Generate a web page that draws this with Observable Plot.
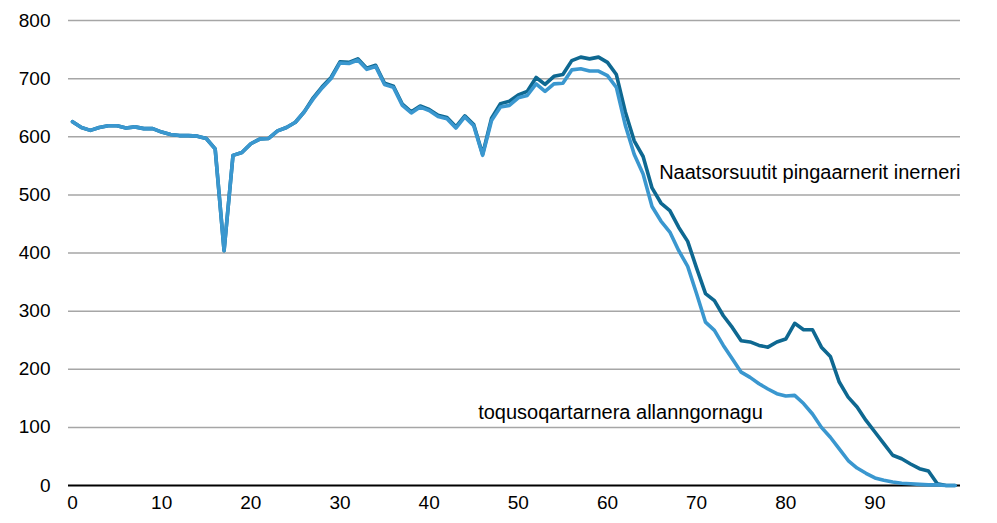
<!DOCTYPE html>
<html>
<head>
<meta charset="utf-8">
<script src="https://cdn.jsdelivr.net/npm/d3@7"></script>
<script src="https://cdn.jsdelivr.net/npm/@observablehq/plot@0.6"></script>
<style>
  html, body { margin: 0; padding: 0; background: #fff; }
  #chart { width: 997px; height: 523px; }
</style>
</head>
<body>
<div id="chart"></div>
<script>
const ages = d3.range(0, 100);

const seriesNames = ["Naatsorsuutit pingaarnerit inerneri", "toqusoqartarnera allanngornagu"];

const projected = [
  626,616,611,616,619,619,615,617,614,614,
  608,604,602,602,601,597,579,404,568,573,
  588,596,597,610,616,625,643,667,686,702,
  729,728,734,718,723,692,687,656,643,653,
  647,637,633,617,636,621,570,632,657,661,
  672,678,702,690,704,707,731,737,734,737,
  728,707,643,593,566,512,486,473,444,420,
  374,330,318,292,272,249,247,241,238,247,
  252,279,268,268,238,222,178,152,135,112,
  92,72,52,46,37,29,25,3,0,0
];

const constantMortality = [
  626,616,611,616,619,619,615,617,614,614,
  608,604,602,602,601,597,579,404,568,573,
  588,596,597,610,616,625,643,665,684,700,
  727,726,732,716,721,690,685,654,641,651,
  645,635,631,615,634,619,568,628,651,654,
  667,671,691,678,691,692,715,717,713,713,
  705,685,620,570,536,480,455,436,404,377,
  330,281,267,241,218,195,186,175,166,158,
  154,155,141,123,100,83,63,43,30,21,
  13,9,6,4,3,2,1,1,0,0
];

const yTicks = [0, 100, 200, 300, 400, 500, 600, 700, 800];
const xTicks = [0, 10, 20, 30, 40, 50, 60, 70, 80, 90];

const colors = ["#0e6891", "#3a97cf"];

const rows = [];
ages.forEach((a, i) => {
  rows.push({age: a, value: projected[i], series: seriesNames[0]});
});
ages.forEach((a, i) => {
  rows.push({age: a, value: constantMortality[i], series: seriesNames[1]});
});

const labels = [
  {age: 65.8, value: 538, text: seriesNames[0]},
  {age: 45.5, value: 126, text: seriesNames[1]}
];

const chart = Plot.plot({
  width: 997,
  height: 523,
  marginLeft: 68,
  marginRight: 37,
  marginTop: 20,
  marginBottom: 38,
  style: {fontFamily: "'Liberation Sans', Arial, sans-serif", fontSize: "19px", color: "#000", background: "#fff"},
  x: {domain: [-0.45, 99.6], ticks: xTicks, tickSize: 0, tickPadding: 10, label: null, tickFormat: d => d},
  y: {domain: [0, 800], ticks: yTicks, tickSize: 0, tickPadding: 18, label: null},
  color: {domain: seriesNames, range: colors},
  marks: [
    Plot.ruleY(yTicks.filter(d => d > 0), {stroke: "#a6a6a6", strokeWidth: 1.5}),
    Plot.ruleY([0], {stroke: "#000", strokeWidth: 2}),
    Plot.axisX({ticks: xTicks, tickSize: 0, tickPadding: 10, fontSize: 19, label: null}),
    Plot.axisY({ticks: yTicks, tickSize: 0, tickPadding: 18, fontSize: 19, label: null}),
    Plot.line(rows, {x: "age", y: "value", z: "series", stroke: "series", strokeWidth: 3.6, strokeLinejoin: "round", strokeLinecap: "round"}),
    Plot.text(labels, {x: "age", y: "value", text: "text", textAnchor: "start", fontSize: 20, fill: "#000"})
  ]
});
document.getElementById("chart").appendChild(chart);
</script>
</body>
</html>
